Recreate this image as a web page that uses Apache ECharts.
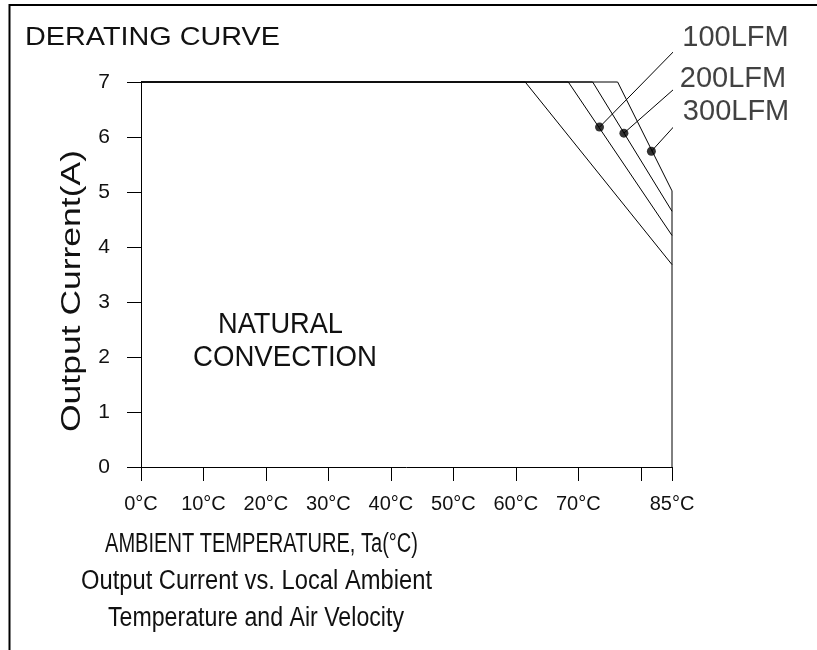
<!DOCTYPE html>
<html><head><meta charset="utf-8">
<script src="https://cdn.jsdelivr.net/npm/echarts@6/dist/echarts.min.js"></script>
<style>html,body{margin:0;padding:0;background:#fff}#c{width:817px;height:650px}</style>
</head><body><div id="c"></div>
<script>
// ---- data ----
const xTickValues = [0, 10, 20, 30, 40, 50, 60, 70, 80, 85];
const xTickLabels = ['0°C', '10°C', '20°C', '30°C', '40°C', '50°C', '60°C', '70°C', '', '85°C'];
const yTickValues = [0, 1, 2, 3, 4, 5, 6, 7];

// derating curves: [ambient °C, output current A]
const naturalConvection = [[0, 7], [61.5, 7], [85, 3.68]];
const lfm100 = [[0, 7], [68.4, 7], [85, 4.21]];
const lfm200 = [[0, 7], [72.3, 7], [85, 4.65]];
const lfm300 = [[0, 7], [76.3, 7], [85, 5.02], [85, 0]];

// callout markers on the forced-air curves and the ends of their leader lines
const airflowNames = ['100LFM', '200LFM', '300LFM'];
const markerPoints = [[73.4, 6.18], [77.3, 6.07], [81.7, 5.74]];
const leaderEnds = [[86.0, 7.64], [85.6, 6.90], [86.1, 6.29]];

// ---- chart ----
const FONT = '"Liberation Sans", Arial, sans-serif';
const TXT = '#111';
const chart = echarts.init(document.getElementById('c'), null, {renderer: 'canvas'});

const mctx = document.createElement('canvas').getContext('2d');
function fitText(text, left, right, cy, fontSize) {
  const font = fontSize + 'px ' + FONT;
  mctx.font = font;
  const w = mctx.measureText(text).width;
  return {
    type: 'text', x: left, y: cy, scaleX: (right - left) / w, silent: true,
    style: {text: text, x: 0, y: 0, font: font, fill: TXT, textAlign: 'left', textVerticalAlign: 'middle'}
  };
}
function fitRotated(text, cx, cy, len, fontSize) {
  const font = fontSize + 'px ' + FONT;
  mctx.font = font;
  const w = mctx.measureText(text).width;
  return {
    type: 'text', x: cx, y: cy, rotation: Math.PI / 2, scaleX: len / w, silent: true,
    style: {text: text, x: 0, y: 0, font: font, fill: TXT, textAlign: 'center', textVerticalAlign: 'middle'}
  };
}

const lineStyle = {color: '#000', width: 1};
function curve(name, data) {
  return {name: name, type: 'line', data: data, symbol: 'none', lineStyle: lineStyle,
          clip: false, silent: true, animation: false, z: 3};
}

const series = [
  curve('Natural convection', naturalConvection),
  curve('100LFM', lfm100),
  curve('200LFM', lfm200),
  curve('300LFM', lfm300)
];
airflowNames.forEach(function (n, i) {
  series.push({
    name: n + ' leader', type: 'line', data: [markerPoints[i], leaderEnds[i]],
    symbol: 'none', lineStyle: lineStyle, clip: false, silent: true, animation: false, z: 3
  });
});
series.push({
  name: 'markers', type: 'scatter', data: markerPoints, symbol: 'circle', symbolSize: 9,
  itemStyle: {color: '#000'}, clip: false, silent: true, animation: false, z: 4
});
series.push({
  name: 'labels', type: 'scatter', symbolSize: 0, clip: false, silent: true, animation: false,
  data: leaderEnds.map(function (p, i) { return {value: p, name: airflowNames[i]}; }),
  label: {show: true, formatter: '{b}', position: [4, -9], align: 'left', verticalAlign: 'middle',
          fontFamily: FONT, fontSize: 29, color: TXT}
});

chart.setOption({
  animation: false,
  backgroundColor: '#fff',
  grid: {left: 141, right: 145, top: 82, bottom: 183, containLabel: false},
  xAxis: {
    type: 'value', min: 0, max: 85, interval: 10,
    axisLine: {show: true, lineStyle: {color: '#000', width: 1}},
    axisTick: {show: true, length: 14, lineStyle: {color: '#000', width: 1}},
    splitLine: {show: false},
    axisLabel: {
      showMinLabel: true, showMaxLabel: true, margin: 27,
      fontFamily: FONT, fontSize: 20, color: TXT,
      formatter: function (v) { const i = xTickValues.indexOf(v); return i >= 0 ? xTickLabels[i] : ''; }
    }
  },
  yAxis: {
    type: 'value', min: yTickValues[0], max: yTickValues[yTickValues.length - 1], interval: 1,
    axisLine: {show: true, lineStyle: {color: '#000', width: 1}},
    axisTick: {show: true, length: 14, lineStyle: {color: '#000', width: 1}},
    splitLine: {show: false},
    axisLabel: {margin: 31, fontFamily: FONT, fontSize: 21, color: TXT}
  },
  graphic: [
    {type: 'polyline', silent: true, shape: {points: [[9.5, 650], [9.5, 5], [817, 5]]},
     style: {stroke: '#000', lineWidth: 2, fill: null}},
    fitText('DERATING CURVE', 25, 280, 37.5, 26),
    fitText('NATURAL', 218, 343, 325, 30),
    fitText('CONVECTION', 193, 377, 357.5, 30),
    fitText('AMBIENT TEMPERATURE, Ta(°C)', 105, 418, 545, 27),
    fitText('Output Current vs. Local Ambient', 81, 432, 582, 27),
    fitText('Temperature and Air Velocity', 108, 404, 619, 27),
    fitRotated('Output Current(A)', 73, 291, 282, 27)
  ],
  series: series
});
</script>
</body></html>
